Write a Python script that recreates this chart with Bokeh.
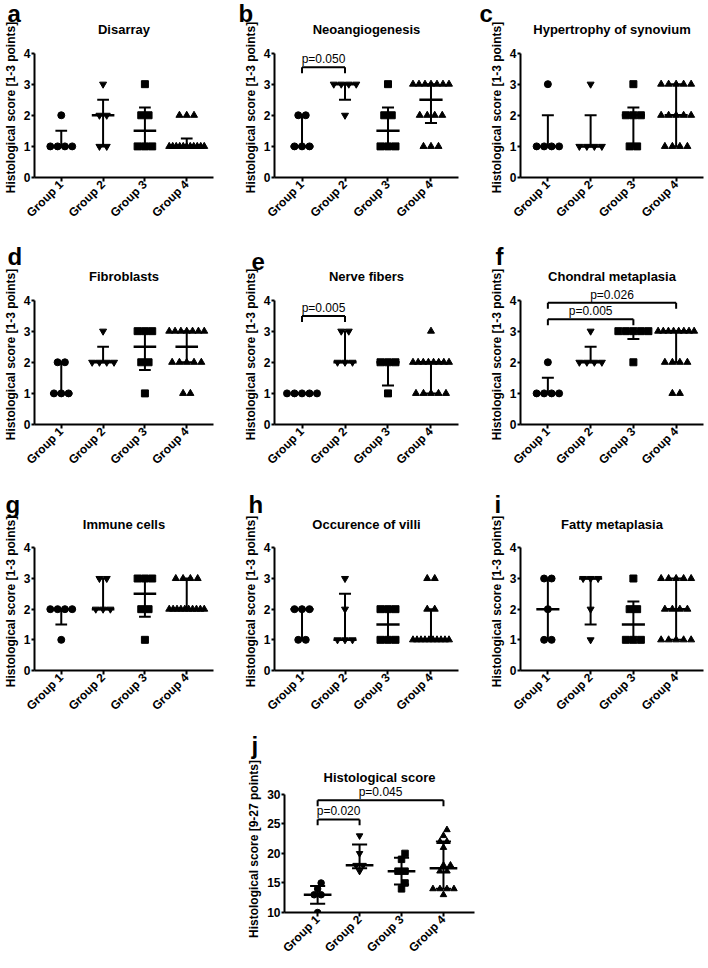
import math
import numpy as np
from bokeh.plotting import figure
from bokeh.layouts import column, row
from bokeh.models import Range1d, FixedTicker, Title, Spacer
from bokeh.core.properties import value
from bokeh.embed import file_html
from bokeh.resources import INLINE

FONT = "Liberation Sans"

# ---------------- data ----------------
groups = ["Group 1", "Group 2", "Group 3", "Group 4"]
group_markers = ["circle", "inverted_triangle", "square", "triangle"]

letters = ["a", "b", "c", "d", "e", "f", "g", "h", "i", "j"]
titles = ["Disarray", "Neoangiogenesis", "Hypertrophy of synovium",
          "Fibroblasts", "Nerve fibers", "Chondral metaplasia",
          "Immune cells", "Occurence of villi", "Fatty metaplasia",
          "Histological score"]

ylabel_item = "Histological score [1-3 points]"
ylabel_total = "Histological score [9-27 points]"
item_ticks = [0, 1, 2, 3, 4]
total_ticks = [10, 15, 20, 25, 30]

disarray = [[2, 1, 1, 1, 1],
            [3, 2, 2, 1, 1],
            [3, 2, 2, 1, 1, 1],
            [2, 2, 2, 1, 1, 1, 1, 1, 1, 1, 1, 1, 1, 1]]
neoangiogenesis = [[2, 2, 1, 1, 1],
                   [3, 3, 3, 3, 2],
                   [3, 2, 2, 1, 1, 1],
                   [3, 3, 3, 3, 3, 3, 3, 2, 2, 2, 2, 1, 1, 1]]
hypertrophy = [[3, 1, 1, 1, 1],
               [3, 1, 1, 1, 1],
               [3, 2, 2, 2, 1, 1],
               [3, 3, 3, 3, 3, 2, 2, 2, 2, 2, 1, 1, 1, 1]]
fibroblasts = [[2, 2, 1, 1, 1],
               [3, 2, 2, 2, 2],
               [3, 3, 3, 2, 2, 1],
               [3, 3, 3, 3, 3, 3, 3, 2, 2, 2, 2, 2, 1, 1]]
nerve_fibers = [[1, 1, 1, 1, 1],
                [3, 3, 2, 2, 2],
                [2, 2, 2, 1],
                [3, 2, 2, 2, 2, 2, 2, 2, 2, 1, 1, 1, 1, 1]]
chondral = [[2, 1, 1, 1, 1],
            [3, 2, 2, 2, 2],
            [3, 3, 3, 3, 3, 2],
            [3, 3, 3, 3, 3, 3, 3, 3, 2, 2, 2, 2, 1, 1]]
immune = [[2, 2, 2, 2, 1],
          [3, 3, 2, 2, 2],
          [3, 3, 3, 2, 2, 1],
          [3, 3, 3, 3, 2, 2, 2, 2, 2, 2, 2, 2, 2, 2]]
villi = [[2, 2, 2, 1, 1],
         [3, 2, 1, 1, 1],
         [2, 2, 2, 1, 1, 1],
         [3, 3, 2, 2, 1, 1, 1, 1, 1, 1, 1, 1, 1, 1]]
fatty = [[3, 3, 2, 1, 1],
         [3, 3, 3, 2, 1],
         [3, 2, 2, 1, 1, 1],
         [3, 3, 3, 3, 3, 2, 2, 2, 2, 1, 1, 1, 1, 1]]
total_score = [[15, 14, 13, 13, 10],
               [23, 20, 18, 18, 17],
               [20, 19, 17, 17, 15, 14],
               [24, 23, 22, 22, 21, 18, 18, 17, 17, 14, 14, 14, 14, 13]]

# comparisons: (from group, to group, bracket level, label)
comp_a = []
comp_b = [(1, 2, 3.54, "p=0.050")]
comp_c = []
comp_d = []
comp_e = [(1, 2, 3.49, "p=0.005")]
comp_f = [(1, 4, 3.91, "p=0.026"), (1, 3, 3.38, "p=0.005")]
comp_g = []
comp_h = []
comp_i = []
comp_j = [(1, 4, 29.0, "p=0.045"), (1, 2, 25.75, "p=0.020")]

panel_data = [disarray, neoangiogenesis, hypertrophy, fibroblasts, nerve_fibers,
              chondral, immune, villi, fatty, total_score]
panel_comps = [comp_a, comp_b, comp_c, comp_d, comp_e, comp_f, comp_g, comp_h,
               comp_i, comp_j]

# ---------------- layout / style ----------------
letter_dx = [-27, -36, -41, -27, -23, -25, -29, -26, -26, -33]


def spread(vals, ppx, ppy, d, span):
    """horizontal offsets (data units) so that points do not overlap"""
    order = sorted(range(len(vals)), key=lambda i: vals[i])
    placed = []
    offs = [0.0] * len(vals)
    i = 0
    while i < len(order):
        j = i
        while j < len(order) and vals[order[j]] == vals[order[i]]:
            j += 1
        idxs = order[i:j]
        k = len(idxs)
        step = d if k == 1 else min(d, span / (k - 1))
        base = [(t - (k - 1) / 2) * step for t in range(k)]
        ypx = vals[idxs[0]] * ppy
        pos = base
        for c in [0, d / 2, -d / 2, d, -d, 1.5 * d, -1.5 * d, 2 * d, -2 * d]:
            cand = [b + c for b in base]
            if all((px - qx) ** 2 + (ypx - qy) ** 2 >= 0.98 * d * d
                   for px in cand for (qx, qy) in placed):
                pos = cand
                break
        for ii, px in zip(idxs, pos):
            offs[ii] = px / ppx
            placed.append((px, ypx))
        i = j
    return offs


def make_panel(idx, ylabel, ticks, yr, xr, W, H, L, R, T, B, letter_standoff,
               med_hw, cap_hw, msize, d, span, bounds):
    data = panel_data[idx]
    comps = panel_comps[idx]
    fw = W - L - R
    fh = H - T - B
    ppx = fw / (xr[1] - xr[0])
    ppy = fh / (yr[1] - yr[0])
    p = figure(width=W, height=H, x_range=Range1d(*xr), y_range=Range1d(*yr),
               output_backend="svg", toolbar_location=None,
               min_border_left=L, min_border_right=R,
               min_border_top=T, min_border_bottom=B, title=letters[idx])
    p.outline_line_color = None
    p.xgrid.visible = False
    p.ygrid.visible = False
    p.background_fill_color = "white"
    p.border_fill_color = "white"

    # panel letter (outermost title)
    p.title.text_font = FONT
    p.title.text_font_size = "24px"
    p.title.text_font_style = "bold"
    p.title.text_color = "black"
    p.title.align = "left"
    p.title.offset = letter_dx[idx]
    p.title.standoff = letter_standoff
    p.title.vertical_align = "bottom"

    # panel title (next to the frame)
    p.add_layout(Title(text=titles[idx], align="center", standoff=1,
                       vertical_align="bottom", text_font=FONT,
                       text_font_size="13px", text_font_style="bold",
                       text_color="black"), "above")

    xa = p.xaxis[0]
    xa.ticker = FixedTicker(ticks=[1, 2, 3, 4])
    xa.major_label_overrides = {i + 1: g for i, g in enumerate(groups)}
    xa.major_label_orientation = math.pi / 4
    ya = p.yaxis[0]
    ya.ticker = FixedTicker(ticks=ticks)
    ya.bounds = bounds
    ya.axis_label = ylabel
    ya.axis_label_text_font = FONT
    ya.axis_label_text_font_size = "12px"
    ya.axis_label_text_font_style = "bold"
    ya.axis_label_text_color = "black"
    ya.axis_label_standoff = 3
    for ax in (xa, ya):
        ax.axis_line_width = 2
        ax.axis_line_color = "black"
        ax.major_tick_line_width = 2
        ax.major_tick_line_color = "black"
        ax.major_tick_in = 0
        ax.minor_tick_in = 0
        ax.minor_tick_out = 0
        ax.major_label_text_font = FONT
        ax.major_label_text_font_size = "12px"
        ax.major_label_text_font_style = "bold"
        ax.major_label_text_color = "black"
    xa.major_tick_out = 4
    xa.major_label_standoff = 1
    ya.major_tick_out = 3
    ya.major_label_standoff = 1

    # points
    for g, vals in enumerate(data):
        offs = spread(vals, ppx, ppy, d, span)
        xs = [g + 1 + o for o in offs]
        p.scatter(xs, vals, marker=group_markers[g], size=msize,
                  color="black")

    # median and interquartile range
    vx0, vy0, vx1, vy1 = [], [], [], []
    mx0, my0, mx1, my1 = [], [], [], []
    for g, vals in enumerate(data):
        q1, med, q3 = np.percentile(vals, [25, 50, 75], method="weibull")
        x = g + 1
        vx0 += [x, x - cap_hw, x - cap_hw]
        vx1 += [x, x + cap_hw, x + cap_hw]
        vy0 += [q1, q1, q3]
        vy1 += [q3, q1, q3]
        mx0.append(x - med_hw)
        mx1.append(x + med_hw)
        my0.append(med)
        my1.append(med)
    p.segment(vx0, vy0, vx1, vy1, line_width=2, color="black")
    p.segment(mx0, my0, mx1, my1, line_width=2.5, color="black")

    # significance brackets
    drop = 6 / ppy
    bx0, by0, bx1, by1 = [], [], [], []
    tx, ty, tt = [], [], []
    for (g1, g2, lvl, lab) in comps:
        bx0 += [g1, g1, g2]
        bx1 += [g2, g1, g2]
        by0 += [lvl, lvl, lvl]
        by1 += [lvl, lvl - drop, lvl - drop]
        tx.append((g1 + g2) / 2)
        ty.append(lvl)
        tt.append(lab)
    if comps:
        p.segment(bx0, by0, bx1, by1, line_width=2, color="black")
        p.text(tx, ty, text=tt, text_font=value(FONT), text_font_size="12px",
               text_align="center", text_baseline="bottom", y_offset=-1,
               text_color="#000000")
    return p


ITEM = dict(ylabel=ylabel_item, ticks=item_ticks, yr=(0, 4.5), xr=(0.36, 4.64),
            med_hw=0.27, cap_hw=0.14, msize=7, d=7.5, span=36, bounds=(0, 4))

# column geometry: (figure width, left border, right border); frame = 184
col_specs = [(236, 29, 23), (240, 38, 18), (228, 44, 1)]
# row geometry: (height, top border, bottom border, letter standoff); frame = 140
row_specs = [(242, 37, 65, -15), (248, 42, 66, -6), (230, 42, 48, -6)]

rows = []
for r, (H, T, B, ls) in enumerate(row_specs):
    figs = []
    for c, (W, L, R) in enumerate(col_specs):
        figs.append(make_panel(r * 3 + c, H=H, W=W, L=L, R=R, T=T, B=B,
                               letter_standoff=ls, **ITEM))
    rows.append(row(*figs))

pj = make_panel(9, ylabel=ylabel_total, ticks=total_ticks, yr=(10, 31.5),
                xr=(0.21, 4.74), W=240, H=242, L=40, R=10, T=65, B=48,
                letter_standoff=18, med_hw=0.33, cap_hw=0.18, msize=6.5, d=7,
                span=30, bounds=(10, 30))
rows.append(row(Spacer(width=244, height=242), pj))

layout = column(*rows)
open("out.html", "w").write(file_html(layout, INLINE))
